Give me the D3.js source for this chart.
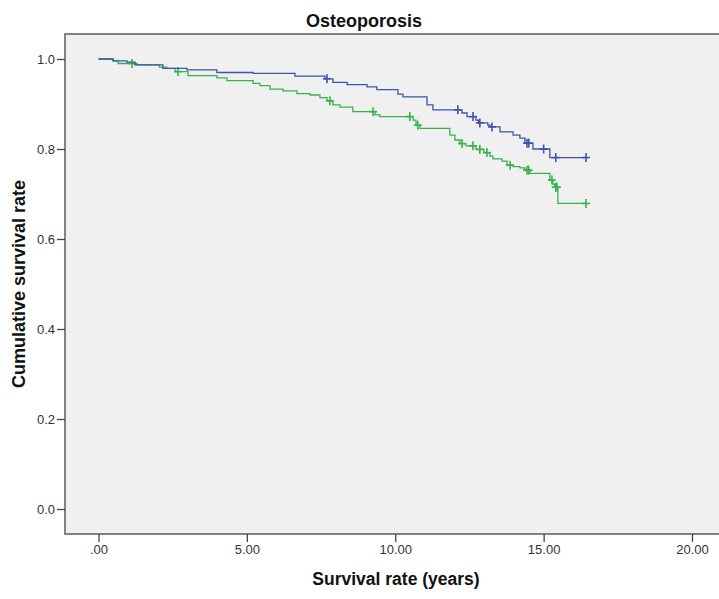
<!DOCTYPE html>
<html lang="en">
  <head>
    <meta charset="UTF-8">
    <script src="https://cdn.jsdelivr.net/npm/d3@7"></script>
    <title>Osteoporosis</title>
    <style>
      body { margin: 0; background: #fff; }
    </style>
  </head>
  <body>
    <script>
      let w = 719;
      let h = 599;

      // Kaplan-Meier steps
      let blueTimes = [0, 0.49, 0.96, 1.23, 2.17, 2.98, 3.99, 5.21, 6.62, 7.63,
                       7.9, 8.38, 9.05, 9.38, 10.09, 10.26, 11.07, 11.27, 12.25, 12.42,
                       12.72, 12.8, 13.12, 13.2, 13.53, 13.97, 14.2, 14.37, 14.64, 15.21];
      let blueSurv  = [1.0, 0.996, 0.993, 0.987, 0.979, 0.976, 0.970, 0.968, 0.962, 0.956,
                       0.948, 0.943, 0.938, 0.932, 0.922, 0.916, 0.898, 0.887, 0.880, 0.872,
                       0.864, 0.858, 0.853, 0.849, 0.838, 0.831, 0.824, 0.813, 0.800, 0.781];
      let blueCensor = [7.70, 12.11, 12.62, 12.85, 13.26, 14.44, 14.5, 15.0, 15.41, 16.43];

      let greenTimes = [0, 0.49, 0.66, 1.30, 2.05, 2.30, 2.58, 3.02, 3.99, 4.33,
                        5.21, 5.44, 5.78, 6.22, 6.69, 7.13, 7.46, 7.70, 7.90, 8.14,
                        8.57, 9.32, 9.48, 10.60, 10.70, 10.83, 11.84, 12.01, 12.18, 12.38,
                        12.72, 12.99, 13.19, 13.29, 13.60, 13.77, 13.97, 14.20, 14.37, 14.54,
                        15.21, 15.31, 15.37, 15.48];
      let greenSurv  = [1.0, 0.996, 0.990, 0.987, 0.982, 0.979, 0.972, 0.963, 0.958, 0.952,
                        0.946, 0.941, 0.933, 0.929, 0.923, 0.920, 0.914, 0.907, 0.898, 0.893,
                        0.883, 0.876, 0.872, 0.864, 0.853, 0.846, 0.831, 0.820, 0.812, 0.807,
                        0.799, 0.792, 0.784, 0.778, 0.773, 0.764, 0.761, 0.758, 0.753, 0.746,
                        0.731, 0.722, 0.715, 0.679];
      let greenCensor = [1.13, 2.68, 7.80, 9.25, 10.49, 10.76, 12.25, 12.62, 12.85, 13.09,
                         13.87, 14.44, 14.5, 15.28, 15.41, 15.45, 16.43];

      let xTicks = [0, 5, 10, 15, 20];
      let yTicks = [0, 0.2, 0.4, 0.6, 0.8, 1.0];

      let plotLeft = 65, plotTop = 34, plotBottom = 534;

      let xScale = d3.scaleLinear().domain([0, 20]).range([98.5, 692]);
      let yScale = d3.scaleLinear().domain([0, 1]).range([509, 59]);

      let svg = d3.select('body')
                  .append('svg')
                  .attr('width', w)
                  .attr('height', h)
                  .style('font-family', '"Liberation Sans", Arial, sans-serif');

      // plot background + frame (right side runs off the picture)
      svg.append('rect')
          .attr('x', plotLeft)
          .attr('y', plotTop)
          .attr('width', w - plotLeft + 5)
          .attr('height', plotBottom - plotTop)
          .attr('fill', '#f0f0f0')
          .attr('stroke', '#666')
          .attr('stroke-width', 1.6);

      // axes
      let xAxis = d3.axisBottom(xScale)
                    .tickValues(xTicks)
                    .tickSize(8)
                    .tickPadding(3)
                    .tickFormat(d => d === 0 ? '.00' : d.toFixed(2));
      let gx = svg.append('g')
                  .attr('transform', `translate(0,${plotBottom})`)
                  .call(xAxis);

      let yAxis = d3.axisLeft(yScale)
                    .tickValues(yTicks)
                    .tickSize(8)
                    .tickPadding(2)
                    .tickFormat(d3.format('.1f'));
      let gy = svg.append('g')
                  .attr('transform', `translate(${plotLeft},0)`)
                  .call(yAxis);

      [gx, gy].forEach(g => {
        g.select('.domain').remove();
        g.selectAll('.tick line').attr('stroke', '#444').attr('stroke-width', 1.3);
        g.selectAll('.tick text')
          .attr('fill', '#333')
          .attr('font-size', '13px')
          .attr('font-family', '"Liberation Sans", Arial, sans-serif');
      });

      // survival curves
      function drawCurve(times, surv, censor, color) {
        let last = censor[censor.length - 1];
        let pts = times.map((t, i) => [t, surv[i]]);
        pts.push([last, surv[surv.length - 1]]);

        let line = d3.line()
                     .x(d => xScale(d[0]))
                     .y(d => yScale(d[1]))
                     .curve(d3.curveStepAfter);

        svg.append('path')
            .datum(pts)
            .attr('d', line)
            .attr('fill', 'none')
            .attr('stroke', color)
            .attr('stroke-width', 1.3);

        // survival value at a censor time
        let survAt = t => {
          let i = d3.bisectRight(times, t) - 1;
          return surv[Math.max(i, 0)];
        };

        let marks = svg.append('g')
                       .selectAll('g')
                       .data(censor)
                       .enter()
                       .append('g')
                       .attr('transform', d => `translate(${xScale(d)},${yScale(survAt(d))})`);
        marks.append('line')
            .attr('x1', 0).attr('x2', 0)
            .attr('y1', -4.5).attr('y2', 4.5)
            .attr('stroke', color)
            .attr('stroke-width', 1.6);
        marks.append('line')
            .attr('x1', -4).attr('x2', 4)
            .attr('y1', 0).attr('y2', 0)
            .attr('stroke', color)
            .attr('stroke-width', 1.6);
      }

      drawCurve(greenTimes, greenSurv, greenCensor, '#36b449');
      drawCurve(blueTimes, blueSurv, blueCensor, '#3d54b0');

      // titles
      svg.append('text')
          .text('Osteoporosis')
          .attr('x', 364)
          .attr('y', 27)
          .attr('text-anchor', 'middle')
          .attr('font-size', '18px')
          .attr('font-weight', 'bold')
          .attr('fill', '#111');

      svg.append('text')
          .text('Survival rate (years)')
          .attr('x', 396)
          .attr('y', 585)
          .attr('text-anchor', 'middle')
          .attr('font-size', '17.5px')
          .attr('font-weight', 'bold')
          .attr('fill', '#111');

      svg.append('text')
          .text('Cumulative survival rate')
          .attr('transform', 'translate(25,284) rotate(-90)')
          .attr('text-anchor', 'middle')
          .attr('font-size', '18px')
          .attr('font-weight', 'bold')
          .attr('fill', '#111');
    </script>
  </body>
</html>
